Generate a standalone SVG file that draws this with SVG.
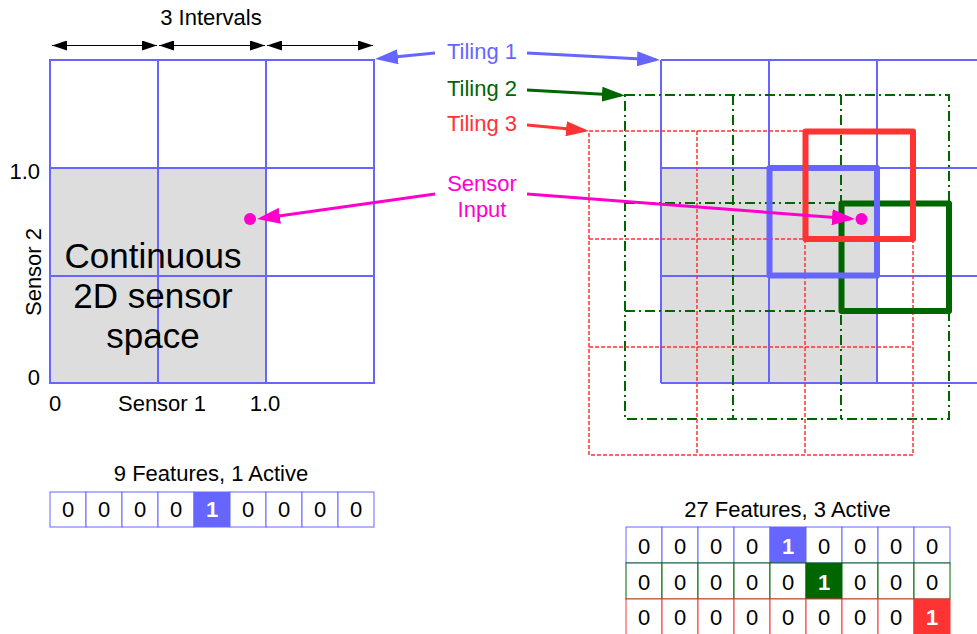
<svg xmlns="http://www.w3.org/2000/svg" width="977" height="634" viewBox="0 0 977 634">
  <style>
    text { font-family: "Liberation Sans", Arial, sans-serif; font-size: 22px; fill: #000; }
    .mid { text-anchor: middle; }
    .end { text-anchor: end; }
    .big { font-size: 35px; }
    .blue { fill: #6666ff; }
    .green { fill: #006600; }
    .red { fill: #ff3333; }
    .mag { fill: #ff00cc; }
    .one { fill: #fff; font-weight: bold; }
    .grid { stroke: #6666ff; stroke-width: 2; fill: none; }
    .t2 { stroke: #006600; stroke-width: 2; fill: none; stroke-dasharray: 10 4 2 4; }
    .t3 { stroke: #ff3333; stroke-width: 1.5; fill: none; stroke-dasharray: 4 2; }
    .thick { fill: none; stroke-width: 6; stroke-linejoin: round; }
    .cellB { fill: #fff; stroke: #6666ff; stroke-width: 1; }
    .cellG { fill: #fff; stroke: #006600; stroke-width: 1; }
    .cellR { fill: #fff; stroke: #ff3333; stroke-width: 1; }
  </style>
  <defs>
    <marker id="ahBlack" markerUnits="userSpaceOnUse" markerWidth="15" markerHeight="10" refX="15" refY="5" orient="auto-start-reverse">
      <path d="M0,0 L15,5 L0,10 z" fill="#000"/>
    </marker>
    <marker id="ahBlue" markerUnits="userSpaceOnUse" markerWidth="23" markerHeight="15" refX="19" refY="7.5" orient="auto">
      <path d="M0,0 L23,7.5 L0,15 z" fill="#6666ff"/>
    </marker>
    <marker id="ahGreen" markerUnits="userSpaceOnUse" markerWidth="23" markerHeight="15" refX="19" refY="7.5" orient="auto">
      <path d="M0,0 L23,7.5 L0,15 z" fill="#006600"/>
    </marker>
    <marker id="ahRed" markerUnits="userSpaceOnUse" markerWidth="23" markerHeight="15" refX="19" refY="7.5" orient="auto">
      <path d="M0,0 L23,7.5 L0,15 z" fill="#ff3333"/>
    </marker>
    <marker id="ahMag" markerUnits="userSpaceOnUse" markerWidth="23" markerHeight="16" refX="19" refY="8" orient="auto">
      <path d="M0,0 L23,8 L0,16 z" fill="#ff00cc"/>
    </marker>
  </defs>

  <!-- single tiling of the sensor space -->
  <g id="sensor-space">
    <rect x="50" y="168" width="216" height="215" fill="#dddddd"/>
    <rect class="grid" x="50" y="60" width="324" height="323"/>
    <line class="grid" x1="158" y1="60" x2="158" y2="383"/>
    <line class="grid" x1="266" y1="60" x2="266" y2="383"/>
    <line class="grid" x1="50" y1="168" x2="374" y2="168"/>
    <line class="grid" x1="50" y1="276" x2="374" y2="276"/>
    <text class="big mid" x="153" y="268">Continuous</text>
    <text class="big mid" x="153" y="308">2D sensor</text>
    <text class="big mid" x="153" y="348">space</text>
    <circle cx="250" cy="219" r="6" fill="#ff00cc"/>
  </g>

  <g id="axis-labels">
    <text class="mid" x="211" y="25">3 Intervals</text>
    <text class="end" x="40" y="179">1.0</text>
    <text class="end" x="40" y="385">0</text>
    <text class="mid" transform="translate(41,272) rotate(-90)">Sensor 2</text>
    <text class="mid" x="55" y="411">0</text>
    <text class="mid" x="162" y="411">Sensor 1</text>
    <text class="mid" x="265" y="411">1.0</text>
  </g>

  <!-- three overlapping tilings -->
  <g id="tilings">
    <rect x="661" y="168" width="216" height="215" fill="#dddddd"/>
    <g id="tiling-1">
      <line class="grid" x1="661" y1="60" x2="661" y2="383"/>
      <line class="grid" x1="769" y1="60" x2="769" y2="383"/>
      <line class="grid" x1="877" y1="60" x2="877" y2="383"/>
      <line class="grid" x1="661" y1="60" x2="985" y2="60"/>
      <line class="grid" x1="661" y1="168" x2="985" y2="168"/>
      <line class="grid" x1="661" y1="276" x2="985" y2="276"/>
      <line class="grid" x1="661" y1="383" x2="985" y2="383"/>
    </g>
    <g id="tiling-2">
      <rect class="t2" x="625" y="95" width="324" height="324"/>
      <line class="t2" x1="733" y1="95" x2="733" y2="419"/>
      <line class="t2" x1="841" y1="95" x2="841" y2="419"/>
      <line class="t2" x1="625" y1="203" x2="949" y2="203"/>
      <line class="t2" x1="625" y1="311" x2="949" y2="311"/>
    </g>
    <g id="tiling-3">
      <rect class="t3" x="589" y="131" width="324" height="324"/>
      <line class="t3" x1="697" y1="131" x2="697" y2="455"/>
      <line class="t3" x1="805" y1="131" x2="805" y2="455"/>
      <line class="t3" x1="589" y1="239" x2="913" y2="239"/>
      <line class="t3" x1="589" y1="347" x2="913" y2="347"/>
    </g>
    <!-- active tile of each tiling -->
    <rect id="active-2" class="thick" x="841.5" y="203.5" width="107.5" height="107.5" stroke="#006600"/>
    <rect id="active-1" class="thick" x="769.5" y="168" width="107.5" height="107.5" stroke="#6666ff"/>
    <rect id="active-3" class="thick" x="805.5" y="131.5" width="107.5" height="107.5" stroke="#ff3333"/>
    <circle cx="861.5" cy="219" r="6" fill="#ff00cc"/>
  </g>

  <g id="labels">
    <text class="mid blue" x="482" y="59">Tiling 1</text>
    <text class="mid green" x="482" y="96">Tiling 2</text>
    <text class="mid red" x="482" y="131">Tiling 3</text>
    <text class="mid mag" x="482" y="191">Sensor</text>
    <text class="mid mag" x="482" y="217">Input</text>
  </g>

  <g id="connectors">
    <line x1="52" y1="45.5" x2="157" y2="45.5" stroke="#000" stroke-width="1" marker-start="url(#ahBlack)" marker-end="url(#ahBlack)"/>
    <line x1="159" y1="45.5" x2="265" y2="45.5" stroke="#000" stroke-width="1" marker-start="url(#ahBlack)" marker-end="url(#ahBlack)"/>
    <line x1="267" y1="45.5" x2="373" y2="45.5" stroke="#000" stroke-width="1" marker-start="url(#ahBlack)" marker-end="url(#ahBlack)"/>
    <line x1="435" y1="53" x2="379" y2="58.6" stroke="#6666ff" stroke-width="3" marker-end="url(#ahBlue)"/>
    <line x1="527" y1="53" x2="656" y2="59.8" stroke="#6666ff" stroke-width="3" marker-end="url(#ahBlue)"/>
    <line x1="527" y1="90" x2="621" y2="95.3" stroke="#006600" stroke-width="3" marker-end="url(#ahGreen)"/>
    <line x1="527" y1="125" x2="585" y2="130.6" stroke="#ff3333" stroke-width="3" marker-end="url(#ahRed)"/>
    <line x1="435" y1="194" x2="261" y2="218.4" stroke="#ff00cc" stroke-width="3" marker-end="url(#ahMag)"/>
    <line x1="527" y1="194" x2="851" y2="218.7" stroke="#ff00cc" stroke-width="3" marker-end="url(#ahMag)"/>
  </g>

  <!-- feature vector of the single tiling -->
  <g id="features-9">
    <text class="mid" x="211" y="481">9 Features, 1 Active</text>
    <rect class="cellB" x="50" y="492" width="36" height="35"/>
    <rect class="cellB" x="86" y="492" width="36" height="35"/>
    <rect class="cellB" x="122" y="492" width="36" height="35"/>
    <rect class="cellB" x="158" y="492" width="36" height="35"/>
    <rect x="194" y="492" width="36" height="35" fill="#6666ff" stroke="#6666ff" stroke-width="1"/>
    <rect class="cellB" x="230" y="492" width="36" height="35"/>
    <rect class="cellB" x="266" y="492" width="36" height="35"/>
    <rect class="cellB" x="302" y="492" width="36" height="35"/>
    <rect class="cellB" x="338" y="492" width="36" height="35"/>
    <text class="mid" x="68" y="517">0</text>
    <text class="mid" x="104" y="517">0</text>
    <text class="mid" x="140" y="517">0</text>
    <text class="mid" x="176" y="517">0</text>
    <text class="mid one" x="212" y="517">1</text>
    <text class="mid" x="248" y="517">0</text>
    <text class="mid" x="284" y="517">0</text>
    <text class="mid" x="320" y="517">0</text>
    <text class="mid" x="356" y="517">0</text>
  </g>

  <!-- feature vector of the three tilings -->
  <g id="features-27">
    <text class="mid" x="787.5" y="517">27 Features, 3 Active</text>
    <g id="row-1">
      <rect class="cellB" x="626" y="527" width="36" height="36"/>
      <rect class="cellB" x="662" y="527" width="36" height="36"/>
      <rect class="cellB" x="698" y="527" width="36" height="36"/>
      <rect class="cellB" x="734" y="527" width="36" height="36"/>
      <rect x="770" y="527" width="36" height="36" fill="#6666ff" stroke="#6666ff" stroke-width="1"/>
      <rect class="cellB" x="806" y="527" width="36" height="36"/>
      <rect class="cellB" x="842" y="527" width="36" height="36"/>
      <rect class="cellB" x="878" y="527" width="36" height="36"/>
      <rect class="cellB" x="914" y="527" width="36" height="36"/>
      <text class="mid" x="644" y="554">0</text>
      <text class="mid" x="680" y="554">0</text>
      <text class="mid" x="716" y="554">0</text>
      <text class="mid" x="752" y="554">0</text>
      <text class="mid one" x="788" y="554">1</text>
      <text class="mid" x="824" y="554">0</text>
      <text class="mid" x="860" y="554">0</text>
      <text class="mid" x="896" y="554">0</text>
      <text class="mid" x="932" y="554">0</text>
    </g>
    <g id="row-2">
      <rect class="cellG" x="626" y="563" width="36" height="36"/>
      <rect class="cellG" x="662" y="563" width="36" height="36"/>
      <rect class="cellG" x="698" y="563" width="36" height="36"/>
      <rect class="cellG" x="734" y="563" width="36" height="36"/>
      <rect class="cellG" x="770" y="563" width="36" height="36"/>
      <rect x="806" y="563" width="36" height="36" fill="#006600" stroke="#006600" stroke-width="1"/>
      <rect class="cellG" x="842" y="563" width="36" height="36"/>
      <rect class="cellG" x="878" y="563" width="36" height="36"/>
      <rect class="cellG" x="914" y="563" width="36" height="36"/>
      <text class="mid" x="644" y="590">0</text>
      <text class="mid" x="680" y="590">0</text>
      <text class="mid" x="716" y="590">0</text>
      <text class="mid" x="752" y="590">0</text>
      <text class="mid" x="788" y="590">0</text>
      <text class="mid one" x="824" y="590">1</text>
      <text class="mid" x="860" y="590">0</text>
      <text class="mid" x="896" y="590">0</text>
      <text class="mid" x="932" y="590">0</text>
    </g>
    <g id="row-3">
      <rect class="cellR" x="626" y="599" width="36" height="36"/>
      <rect class="cellR" x="662" y="599" width="36" height="36"/>
      <rect class="cellR" x="698" y="599" width="36" height="36"/>
      <rect class="cellR" x="734" y="599" width="36" height="36"/>
      <rect class="cellR" x="770" y="599" width="36" height="36"/>
      <rect class="cellR" x="806" y="599" width="36" height="36"/>
      <rect class="cellR" x="842" y="599" width="36" height="36"/>
      <rect class="cellR" x="878" y="599" width="36" height="36"/>
      <rect x="914" y="599" width="36" height="36" fill="#ff3333" stroke="#ff3333" stroke-width="1"/>
      <text class="mid" x="644" y="625">0</text>
      <text class="mid" x="680" y="625">0</text>
      <text class="mid" x="716" y="625">0</text>
      <text class="mid" x="752" y="625">0</text>
      <text class="mid" x="788" y="625">0</text>
      <text class="mid" x="824" y="625">0</text>
      <text class="mid" x="860" y="625">0</text>
      <text class="mid" x="896" y="625">0</text>
      <text class="mid one" x="932" y="625">1</text>
    </g>
  </g>
</svg>
